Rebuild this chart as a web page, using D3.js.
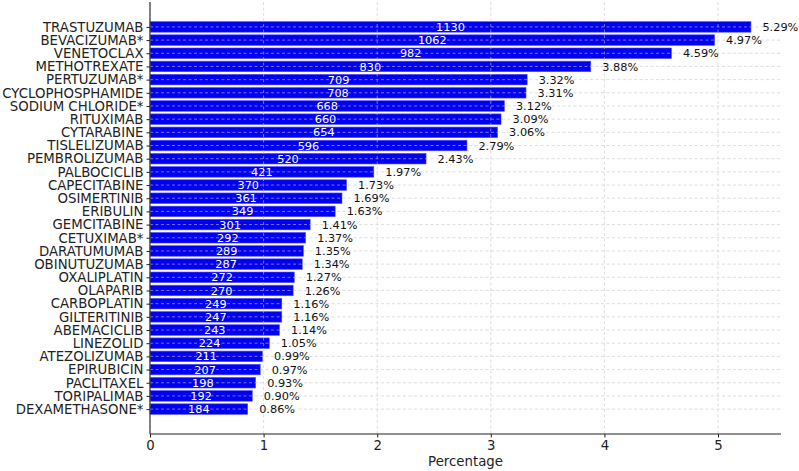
<!DOCTYPE html>
<html><head><meta charset="utf-8">
<script src="https://cdn.jsdelivr.net/npm/d3@7"></script>
<style>body{margin:0;background:#fff}svg{display:block}text{font-family:"DejaVu Sans",sans-serif}</style>
</head><body><svg id="c" width="799" height="471"></svg>
<script>
const categories=["TRASTUZUMAB","BEVACIZUMAB*","VENETOCLAX","METHOTREXATE","PERTUZUMAB*","CYCLOPHOSPHAMIDE","SODIUM CHLORIDE*","RITUXIMAB","CYTARABINE","TISLELIZUMAB","PEMBROLIZUMAB","PALBOCICLIB","CAPECITABINE","OSIMERTINIB","ERIBULIN","GEMCITABINE","CETUXIMAB*","DARATUMUMAB","OBINUTUZUMAB","OXALIPLATIN","OLAPARIB","CARBOPLATIN","GILTERITINIB","ABEMACICLIB","LINEZOLID","ATEZOLIZUMAB","EPIRUBICIN","PACLITAXEL","TORIPALIMAB","DEXAMETHASONE*"];
const counts=[1130,1062,982,830,709,708,668,660,654,596,520,421,370,361,349,301,292,289,287,272,270,249,247,243,224,211,207,198,192,184];
const percentages=[5.29,4.97,4.59,3.88,3.32,3.31,3.12,3.09,3.06,2.79,2.43,1.97,1.73,1.69,1.63,1.41,1.37,1.35,1.34,1.27,1.26,1.16,1.16,1.14,1.05,0.99,0.97,0.93,0.90,0.86];
const xTicks=[0,1,2,3,4,5];
const xLabel="Percentage";

const svg=d3.select("#c");
const L=150,R=781,T=2,B=434;
const n=categories.length;
const x=d3.scaleLinear().domain([0,d3.max(percentages)*1.05]).range([L,R]);
const span=n-1+0.8;
const y=d3.scaleLinear().domain([-0.4-span*0.05,n-1+0.4+span*0.05]).range([T,B]);
const bh=(y(0.8)-y(0));

// bars
svg.append("g").selectAll("rect").data(percentages).join("rect")
 .attr("x",x(0)).attr("y",(d,i)=>y(i)-bh/2).attr("width",d=>x(d)-x(0)).attr("height",bh)
 .attr("fill","#0000f2").attr("stroke","#4d4dff").attr("stroke-width",0.6);

// grid
const g=svg.append("g").attr("stroke","#c8c8c8").attr("stroke-width",0.8).attr("stroke-dasharray","3,2.5").attr("opacity",0.75);
xTicks.forEach(t=>g.append("line").attr("x1",x(t)).attr("x2",x(t)).attr("y1",T).attr("y2",B));
categories.forEach((c,i)=>g.append("line").attr("x1",L).attr("x2",R).attr("y1",y(i)).attr("y2",y(i)));

// count labels
svg.append("g").selectAll("text").data(counts).join("text")
 .attr("x",(d,i)=>x(percentages[i]/2)).attr("y",(d,i)=>y(i)).attr("dy","0.36em")
 .attr("text-anchor","middle").attr("fill","#fff").style("font-size","11.3px").text(d=>d);

// percent labels
svg.append("g").selectAll("text").data(percentages).join("text")
 .attr("x",d=>x(d)+11.5).attr("y",(d,i)=>y(i)).attr("dy","0.36em")
 .attr("fill","#111").style("font-size","11.3px").text(d=>d.toFixed(2)+"%");

// axes
const xa=svg.append("g").attr("transform",`translate(0,${B})`)
 .call(d3.axisBottom(x).tickValues(xTicks).tickFormat(d3.format("d")).tickSizeOuter(0).tickSize(3.5).tickPadding(3.5));
const ya=svg.append("g").attr("transform",`translate(${L},0)`)
 .call(d3.axisLeft(y).tickValues(d3.range(n)).tickFormat(i=>categories[i]).tickSizeOuter(0).tickSize(3.5).tickPadding(3));
[xa,ya].forEach(a=>{a.attr("font-size",null).attr("font-family",null);
 a.select(".domain").attr("stroke","#222").attr("stroke-width",1.1);
 a.selectAll(".tick line").attr("stroke","#222");
 a.selectAll(".tick text").style("font-family","DejaVu Sans").style("font-size","13.3px").attr("fill","#222");});
ya.select(".domain").attr("d",`M0,${T}V${B}`);
xa.select(".domain").attr("d",`M${L},0H${R}`);

svg.append("text").attr("x",(L+R)/2).attr("y",466).attr("text-anchor","middle")
 .style("font-size","13.3px").attr("fill","#222").text(xLabel);
</script></body></html>
